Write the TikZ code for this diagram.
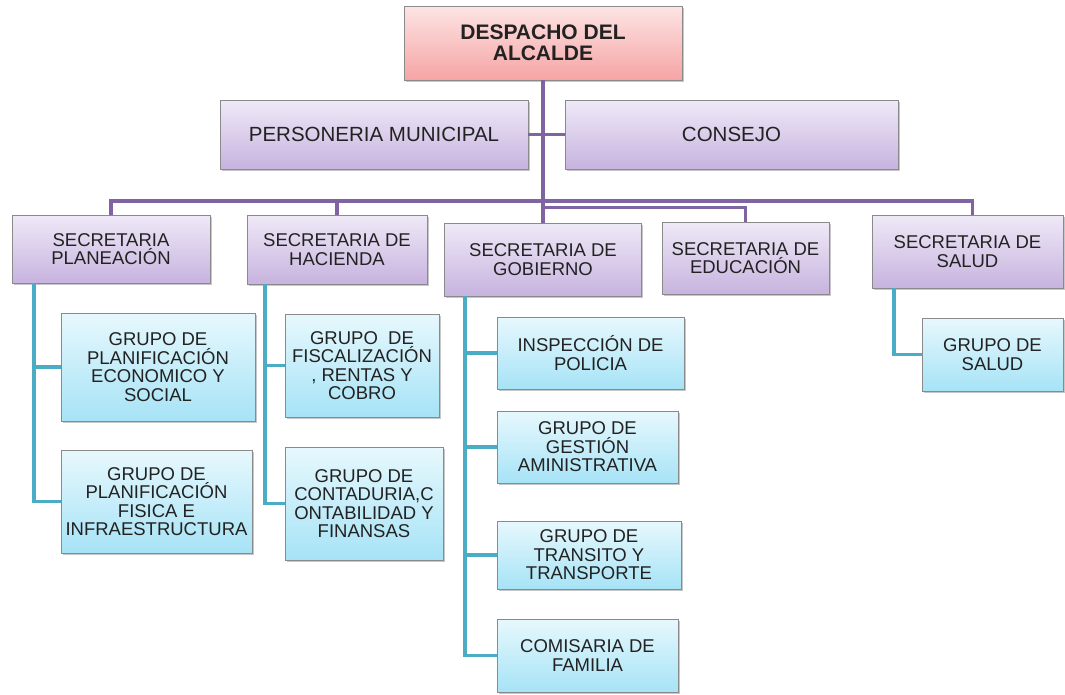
\documentclass[tikz,border=0pt]{standalone}
\usepackage{fontspec}
\setmainfont{Liberation Sans}
\usetikzlibrary{shadows}
\definecolor{pinkT}{HTML}{FDE4E4}
\definecolor{pinkB}{HTML}{F6A4A4}
\definecolor{purT}{HTML}{EFE9F7}
\definecolor{purB}{HTML}{C7B3DF}
\definecolor{cyaT}{HTML}{E7F8FD}
\definecolor{cyaB}{HTML}{A6E3F6}
\definecolor{purline}{HTML}{8064A2}
\definecolor{cyaline}{HTML}{4BACC6}
\definecolor{boxborder}{HTML}{8A8A8A}
\definecolor{textcol}{HTML}{222222}
\begin{document}
\begin{tikzpicture}[x=1pt,y=-1pt,
  box/.style={draw=boxborder, line width=0.7pt, inner sep=0pt, align=center,
    text=textcol, font=\fontsize{18.5}{18.5}\selectfont,
    drop shadow={shadow xshift=1.5pt, shadow yshift=-1.5pt, fill=black, opacity=0.22}},
  pinkbox/.style={box, top color=pinkT, bottom color=pinkB,
    font=\bfseries\fontsize{21}{21.5}\selectfont},
  purbox/.style={box, top color=purT, bottom color=purB},
  bigpur/.style={purbox, font=\fontsize{20.5}{21}\selectfont},
  cyabox/.style={box, top color=cyaT, bottom color=cyaB},
  pline/.style={draw=purline, line width=3.8pt, line join=miter},
  cline/.style={draw=cyaline, line width=3.8pt, line join=miter}]
\useasboundingbox (0,0) rectangle (1065,694);

% top level
\node[pinkbox, minimum width=278, minimum height=74] (desp) at (543,43) {DESPACHO DEL\\ALCALDE};
\node[bigpur, minimum width=308, minimum height=69] (pers) at (374,134.5) {PERSONERIA MUNICIPAL};
\node[bigpur, minimum width=333, minimum height=69] (cons) at (731.5,134.5) {CONSEJO};

% secretarias
\node[purbox, minimum width=198, minimum height=68] (plan) at (111,249) {SECRETARIA\\PLANEACIÓN};
\node[purbox, minimum width=180, minimum height=69] (hac) at (337,249.5) {SECRETARIA DE\\HACIENDA};
\node[purbox, minimum width=197, minimum height=73] (gob) at (543,259.5) {SECRETARIA DE\\GOBIERNO};
\node[purbox, minimum width=167, minimum height=72] (edu) at (745.5,258) {SECRETARIA DE\\EDUCACIÓN};
\node[purbox, minimum width=191, minimum height=73] (sal) at (967.5,251.5) {SECRETARIA DE\\SALUD};

% grupos
\node[cyabox, minimum width=194, minimum height=108] (g1) at (158,367) {GRUPO DE\\PLANIFICACIÓN\\ECONOMICO Y\\SOCIAL};
\node[cyabox, minimum width=191, minimum height=103] (g2) at (156.5,501.5) {GRUPO DE\\PLANIFICACIÓN\\FISICA E\\INFRAESTRUCTURA};
\node[cyabox, minimum width=154, minimum height=103] (fis) at (362,365.5) {GRUPO\ \ DE\\FISCALIZACIÓN\\, RENTAS Y\\COBRO};
\node[cyabox, minimum width=158, minimum height=113] (cont) at (364,503.5) {GRUPO DE\\CONTADURIA,C\\ONTABILIDAD Y\\FINANSAS};
\node[cyabox, minimum width=187, minimum height=72] (insp) at (590.5,353) {INSPECCIÓN DE\\POLICIA};
\node[cyabox, minimum width=181, minimum height=72] (gest) at (587.5,447) {GRUPO DE\\GESTIÓN\\AMINISTRATIVA};
\node[cyabox, minimum width=184, minimum height=68] (trans) at (589,555) {GRUPO DE\\TRANSITO Y\\TRANSPORTE};
\node[cyabox, minimum width=181, minimum height=73] (comis) at (587.5,655.5) {COMISARIA DE\\FAMILIA};
\node[cyabox, minimum width=141, minimum height=73] (gsal) at (992.5,354.5) {GRUPO DE\\SALUD};

% purple connectors
\coordinate (jc) at (543,201);
\coordinate (jc2) at (543,207.5);
\draw[pline] (desp.south) -- (gob.north);
\draw[pline] (pers.east) -- (cons.west);
\draw[pline] (plan.north) |- (jc) -| ([xshift=5pt]sal.north);
\draw[pline] (hac.north) -- (hac.north |- jc);
\draw[pline] (jc2) -| (edu.north);

% cyan connectors
\draw[cline] ([xshift=22pt]plan.south west) |- (g1.west);
\draw[cline] ([xshift=22pt]plan.south west) |- (g2.west);
\draw[cline] ([xshift=18pt]hac.south west) |- (fis.west);
\draw[cline] ([xshift=18pt]hac.south west) |- (cont.west);
\draw[cline] ([xshift=21pt]gob.south west) |- (insp.west);
\draw[cline] ([xshift=21pt]gob.south west) |- (gest.west);
\draw[cline] ([xshift=21pt]gob.south west) |- (trans.west);
\draw[cline] ([xshift=21pt]gob.south west) |- (comis.west);
\draw[cline] ([xshift=22pt]sal.south west) |- (gsal.west);
\end{tikzpicture}
\end{document}
